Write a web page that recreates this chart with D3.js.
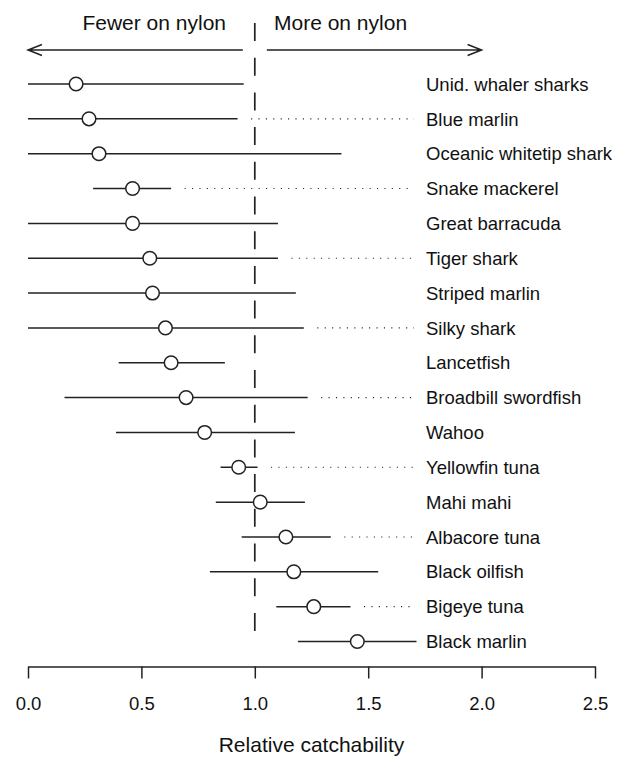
<!DOCTYPE html>
<html>
<head>
<meta charset="utf-8">
<script src="https://cdn.jsdelivr.net/npm/d3@7"></script>
<style>
  body { margin: 0; background: #fff; }
  svg text { font-family: "Liberation Sans", Arial, Helvetica, sans-serif; fill: #111; }
</style>
</head>
<body>
<svg id="main" width="621" height="758"></svg>
<script>
// species, top to bottom
const species = [
  'Unid. whaler sharks', 'Blue marlin', 'Oceanic whitetip shark', 'Snake mackerel',
  'Great barracuda', 'Tiger shark', 'Striped marlin', 'Silky shark', 'Lancetfish',
  'Broadbill swordfish', 'Wahoo', 'Yellowfin tuna', 'Mahi mahi', 'Albacore tuna',
  'Black oilfish', 'Bigeye tuna', 'Black marlin'
];
// relative catchability estimate and interval
const estimate = [0.212, 0.269, 0.313, 0.461, 0.461, 0.537, 0.549, 0.606, 0.631, 0.697, 0.779, 0.929, 1.024, 1.137, 1.172, 1.26, 1.452];
const lower    = [0, 0, 0, 0.287, 0, 0, 0, 0, 0.400, 0.161, 0.388, 0.849, 0.828, 0.942, 0.802, 1.095, 1.19];
const upper    = [0.951, 0.924, 1.382, 0.631, 1.102, 1.102, 1.181, 1.216, 0.868, 1.233, 1.177, 1.012, 1.221, 1.335, 1.544, 1.422, 1.713];
const ticks = [0, 0.5, 1, 1.5, 2, 2.5];

main();

function main() {
  let svg = d3.select('#main');
  let ink = '#222';

  let x = d3.scaleLinear().domain([0, 2.5]).range([28, 595]);
  let y = d3.scalePoint().domain(species).range([84, 641.5]);

  let rows = species.map((s, i) => ({ name: s, est: estimate[i], lo: lower[i], hi: upper[i], i: i }));

  // reference line at 1
  svg.append('line')
    .attr('x1', x(1)).attr('x2', x(1))
    .attr('y1', 23).attr('y2', 633)
    .attr('stroke', ink).attr('stroke-width', 1.7)
    .attr('stroke-dasharray', '18,16.7');

  // direction arrows
  let arrowY = 50;
  let arrows = [
    { from: x(1) - 12, to: x(0) },
    { from: x(1) + 12, to: x(2) }
  ];
  arrows.forEach(a => {
    let dir = a.to < a.from ? 1 : -1;
    svg.append('path')
      .attr('d', `M${a.from},${arrowY}H${a.to}M${a.to + dir * 14},${arrowY - 5.5}L${a.to},${arrowY}L${a.to + dir * 14},${arrowY + 5.5}`)
      .attr('fill', 'none').attr('stroke', ink).attr('stroke-width', 1.5);
  });

  svg.append('text').attr('x', 226).attr('y', 30)
    .attr('text-anchor', 'end').style('font-size', '21px').text('Fewer on nylon');
  svg.append('text').attr('x', 274).attr('y', 30)
    .attr('text-anchor', 'start').style('font-size', '21px').text('More on nylon');

  // dotted leaders on every other row
  svg.append('g').selectAll('line')
    .data(rows.filter(d => d.i % 2 == 1))
    .enter().append('line')
    .attr('x1', d => x(d.hi) + 13.5).attr('x2', 414)
    .attr('y1', d => y(d.name)).attr('y2', d => y(d.name))
    .attr('stroke', ink).attr('stroke-width', 1.1)
    .attr('stroke-dasharray', '1.1,6.3');

  // intervals
  svg.append('g').selectAll('line')
    .data(rows)
    .enter().append('line')
    .attr('x1', d => x(d.lo)).attr('x2', d => x(d.hi))
    .attr('y1', d => y(d.name)).attr('y2', d => y(d.name))
    .attr('stroke', ink).attr('stroke-width', 1.5);

  // estimates
  svg.append('g').selectAll('circle')
    .data(rows)
    .enter().append('circle')
    .attr('cx', d => x(d.est)).attr('cy', d => y(d.name))
    .attr('r', 6.8)
    .attr('fill', '#fff').attr('stroke', ink).attr('stroke-width', 1.5);

  // species labels
  svg.append('g').selectAll('text')
    .data(rows)
    .enter().append('text')
    .attr('x', 426).attr('y', d => y(d.name)).attr('dy', '0.36em')
    .style('font-size', '18.5px')
    .text(d => d.name);

  // x axis
  let axis = svg.append('g')
    .attr('transform', 'translate(0,666.5)')
    .call(d3.axisBottom(x).tickValues(ticks).tickFormat(d3.format('.1f')).tickSize(12).tickSizeOuter(0));
  axis.select('.domain').attr('stroke', ink).attr('stroke-width', 1.5);
  axis.selectAll('.tick line').attr('stroke', ink).attr('stroke-width', 1.5);
  axis.selectAll('.tick text')
    .attr('y', 30).attr('dy', '0.71em')
    .style('font-size', '18.5px')
    .style('font-family', '"Liberation Sans", Arial, sans-serif')
    .attr('fill', '#111');

  svg.append('text')
    .attr('x', (x(0) + x(2.5)) / 2).attr('y', 752)
    .attr('text-anchor', 'middle').style('font-size', '21px')
    .text('Relative catchability');
}
</script>
</body>
</html>
